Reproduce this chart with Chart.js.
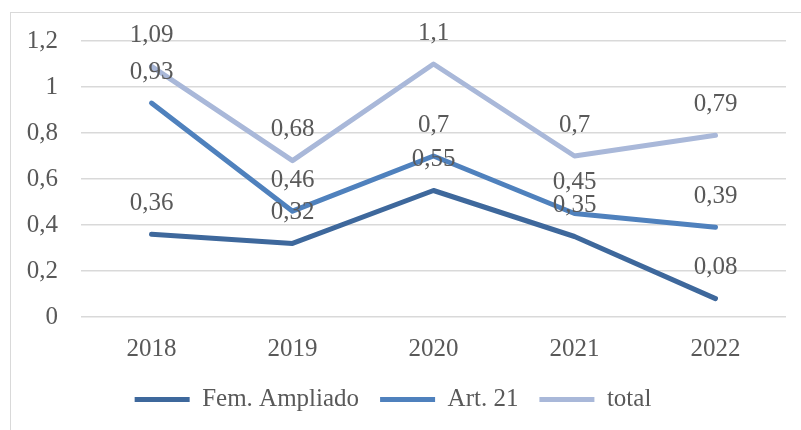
<!DOCTYPE html>
<html><head><meta charset="utf-8">
<script src="https://cdn.jsdelivr.net/npm/chart.js@4/dist/chart.umd.min.js"></script>
<style>html,body{margin:0;padding:0;background:#fff;}#wrap{width:801px;height:430px;}</style>
</head><body><div id="wrap"><canvas id="c" width="801" height="430"></canvas></div>
<script>
const categories = ['2018','2019','2020','2021','2022'];
const femAmpliado = [0.36, 0.32, 0.55, 0.35, 0.08];
const art21 = [0.93, 0.46, 0.70, 0.45, 0.39];
const total = [1.09, 0.68, 1.10, 0.70, 0.79];
const seriesNames = ['Fem. Ampliado', 'Art. 21', 'total'];

const fmt = v => String(Math.round(v*100)/100).replace('.', ',');
const FONT = '"Liberation Serif", "Times New Roman", serif';
const TXT = '#595959';

const borderPlugin = {
  id: 'outerBorder',
  beforeDraw(chart) {
    const ctx = chart.ctx;
    ctx.save();
    ctx.fillStyle = '#fff';
    ctx.fillRect(0,0,chart.width,chart.height);
    ctx.strokeStyle = '#d9d9d9';
    ctx.lineWidth = 1;
    ctx.strokeRect(10.5, 12.5, 800, 430);
    ctx.restore();
  }
};
const labelPlugin = {
  id: 'valueLabels',
  afterDatasetsDraw(chart) {
    const ctx = chart.ctx;
    ctx.save();
    ctx.font = '25px ' + FONT;
    ctx.fillStyle = TXT;
    ctx.textAlign = 'center';
    ctx.textBaseline = 'middle';
    chart.data.datasets.forEach((ds, i) => {
      const meta = chart.getDatasetMeta(i);
      meta.data.forEach((pt, j) => {
        ctx.fillText(fmt(ds.data[j]), pt.x, pt.y - 31);
      });
    });
    ctx.restore();
  }
};

new Chart(document.getElementById('c'), {
  type: 'line',
  data: {
    labels: categories,
    datasets: [
      {label: seriesNames[0], data: femAmpliado, borderColor: '#3e689c', backgroundColor: '#3e689c'},
      {label: seriesNames[1], data: art21, borderColor: '#4f81bd', backgroundColor: '#4f81bd'},
      {label: seriesNames[2], data: total, borderColor: '#a9b8d9', backgroundColor: '#a9b8d9'}
    ].map(d => Object.assign(d, {borderWidth: 5, pointRadius: 0, tension: 0, borderJoinStyle: 'round', borderCapStyle: 'round', fill: false}))
  },
  options: {
    responsive: false,
    animation: false,
    layout: {padding: {left: 0, right: 15, top: 41, bottom: 8}},
    plugins: {
      legend: {
        position: 'bottom',
        labels: {
          usePointStyle: true, pointStyle: 'line', pointStyleWidth: 55,
          color: TXT, font: {family: FONT, size: 25}, padding: 21
        }
      },
      tooltip: {enabled: false}
    },
    scales: {
      x: {
        offset: true,
        grid: {display: false, drawTicks: false},
        border: {display: false},
        ticks: {color: TXT, font: {family: FONT, size: 25}, padding: 17, maxRotation: 0},
        afterFit(s) { s.height = 49; }
      },
      y: {
        min: 0, max: 1.2,
        grid: {color: '#d9d9d9', lineWidth: 1.5, drawTicks: false},
        border: {display: false},
        ticks: {stepSize: 0.2, color: TXT, font: {family: FONT, size: 25}, padding: 23,
          callback: v => fmt(v)},
        afterFit(s) { s.width = 81; }
      }
    }
  },
  plugins: [borderPlugin, labelPlugin]
});
</script></body></html>
